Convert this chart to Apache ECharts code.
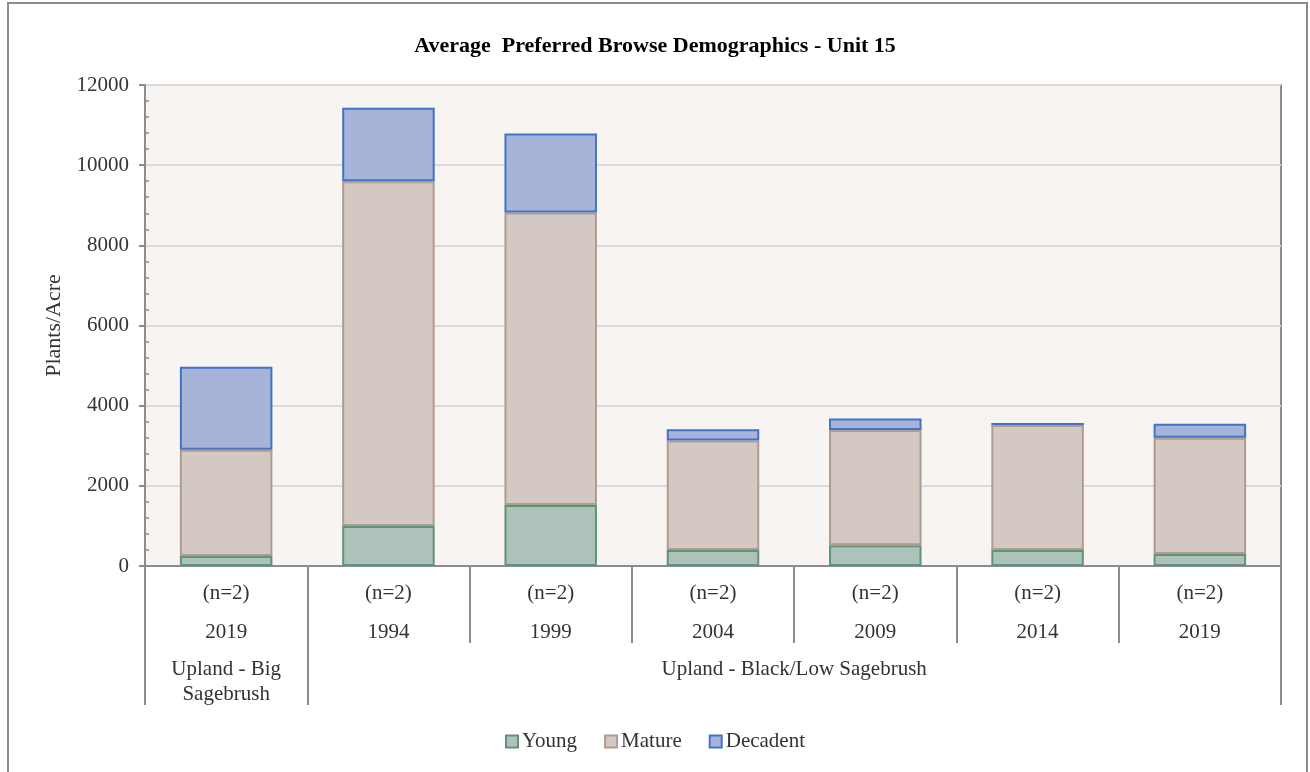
<!DOCTYPE html>
<html>
<head>
<meta charset="utf-8">
<script src="https://cdn.jsdelivr.net/npm/echarts@6/dist/echarts.min.js"></script>
<style>
  html, body { margin: 0; padding: 0; background: #ffffff; }
  #frame { position: absolute; left: 7px; top: 2px; width: 1301px; height: 790px; border: 2px solid #8c8c8c; box-sizing: border-box; }
  #chart { position: absolute; left: 0; top: 0; width: 1310px; height: 772px; }
</style>
</head>
<body>
<div id="frame"></div>
<div id="chart"></div>
<script>
// Browse demographics per sampling year (plants per acre)
const years = ['2019', '1994', '1999', '2004', '2009', '2014', '2019'];
const sampleSizes = ['(n=2)', '(n=2)', '(n=2)', '(n=2)', '(n=2)', '(n=2)', '(n=2)'];
const young = [250, 1000, 1520, 400, 520, 400, 300];
const mature = [2650, 8600, 7300, 2730, 2870, 3120, 2900];
const decadent = [2070, 1830, 1970, 280, 290, 50, 350];

// Site groups: name and number of columns they cover
const groupNames = ['Upland - Big\nSagebrush', 'Upland - Black/Low Sagebrush'];
const groupSpans = [1, 6];

const serif = '"Liberation Serif", "Times New Roman", serif';
const axisGray = '#8c8c8c';
const textColor = '#333333';
const labelSize = 21;

const categories = years.map((y, i) => i + ':' + y);

// group boundaries and centres on a 0..N value scale
const groupBounds = [0];
groupSpans.forEach(s => groupBounds.push(groupBounds[groupBounds.length - 1] + s));
const groupCenters = groupSpans.map((s, i) => groupBounds[i] + s / 2);

const chart = echarts.init(document.getElementById('chart'));

const barCommon = {
  type: 'bar',
  stack: 'total',
  barWidth: '57%',
  xAxisIndex: 0,
  yAxisIndex: 0
};

chart.setOption({
  animation: false,
  title: {
    text: 'Average  Preferred Browse Demographics - Unit 15',
    left: 'center',
    top: 30,
    textStyle: { fontFamily: serif, fontWeight: 'bold', fontSize: 22, color: '#000000' }
  },
  legend: {
    bottom: 15,
    left: 'center',
    itemWidth: 12,
    itemHeight: 12,
    itemGap: 27,
    icon: 'rect',
    textStyle: { fontFamily: serif, fontSize: labelSize, color: textColor, padding: [0, 0, 0, -1] },
    data: ['Young', 'Mature', 'Decadent']
  },
  grid: {
    left: 145,
    right: 29,
    top: 85,
    bottom: 206,
    show: true,
    backgroundColor: '#f7f4f1',
    borderColor: axisGray,
    borderWidth: 2,
    outerBoundsMode: 'none'
  },
  xAxis: [
    {
      type: 'category',
      data: categories,
      position: 'bottom',
      axisLine: { show: true, lineStyle: { color: axisGray, width: 2 } },
      axisTick: { show: true, interval: 0, length: 77, lineStyle: { color: axisGray, width: 2 } },
      axisLabel: {
        interval: 0,
        margin: 8,
        formatter: (v, i) => '{n|' + sampleSizes[i] + '}\n{y|' + years[i] + '}',
        rich: {
          n: { fontFamily: serif, fontSize: labelSize, color: textColor, lineHeight: 39 },
          y: { fontFamily: serif, fontSize: labelSize, color: textColor, lineHeight: 39 }
        }
      },
      splitLine: { show: false }
    },
    {
      // site group row underneath the years
      type: 'value',
      position: 'bottom',
      min: 0,
      max: years.length,
      interval: 1,
      axisLine: { show: false },
      splitLine: { show: false },
      axisTick: {
        show: true,
        customValues: groupBounds,
        length: 139,
        lineStyle: { color: axisGray, width: 2 }
      },
      axisLabel: {
        customValues: groupCenters,
        margin: 91,
        fontFamily: serif,
        fontSize: labelSize,
        lineHeight: 25,
        color: textColor,
        formatter: v => groupNames[groupCenters.indexOf(v)]
      }
    }
  ],
  yAxis: [
    {
      type: 'value',
      min: 0,
      max: 12000,
      interval: 2000,
      name: 'Plants/Acre',
      nameLocation: 'middle',
      nameRotate: 90,
      nameGap: 79,
      nameTextStyle: { fontFamily: serif, fontSize: 22, color: textColor },
      axisLine: { show: true, lineStyle: { color: axisGray, width: 2 } },
      axisTick: { show: true, length: 6, lineStyle: { color: axisGray, width: 2 } },
      axisLabel: { margin: 16, fontFamily: serif, fontSize: labelSize, color: textColor, formatter: v => String(v) },
      splitLine: { show: true, lineStyle: { color: '#dadada', width: 2 } }
    },
    {
      // inner minor ticks along the value axis
      type: 'value',
      position: 'left',
      min: 0,
      max: 12000,
      interval: 2000,
      axisLine: { show: false },
      axisLabel: { show: false },
      axisTick: { show: false, inside: true },
      minorTick: { show: true, splitNumber: 5, length: 4, lineStyle: { color: axisGray, width: 1.5 } },
      splitLine: { show: false }
    }
  ],
  series: [
    Object.assign({}, barCommon, {
      name: 'Young',
      data: young,
      itemStyle: { color: '#adc2b8', borderColor: '#5e9578', borderWidth: 2 }
    }),
    Object.assign({}, barCommon, {
      name: 'Mature',
      data: mature,
      itemStyle: { color: '#d4c8c2', borderColor: '#b09b91', borderWidth: 2 }
    }),
    Object.assign({}, barCommon, {
      name: 'Decadent',
      data: decadent,
      itemStyle: { color: '#a6b4d9', borderColor: '#4472c4', borderWidth: 2 }
    })
  ]
});
</script>
</body>
</html>
